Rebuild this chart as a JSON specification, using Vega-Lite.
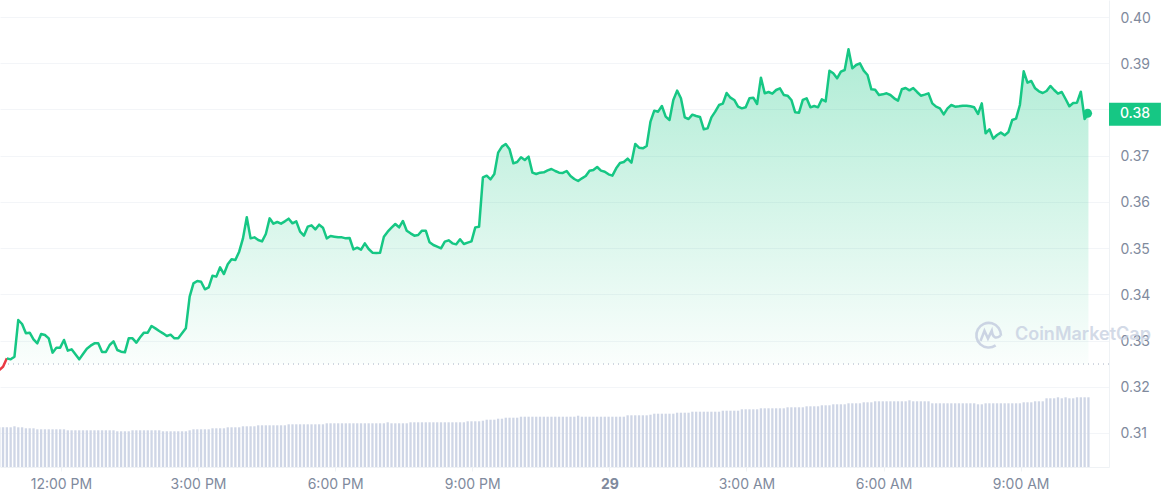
{"$schema":"https://vega.github.io/schema/vega-lite/v6.json","width":1109,"height":467,"autosize":"none","padding":{"left":0,"top":0,"right":52,"bottom":33},"background":"#ffffff","config":{"view":{"stroke":null},"font":"Inter"},
"data":{"values":[
{"time":"2023-09-28T10:39Z","price":0.32361,"volume":39.7},{"time":"2023-09-28T10:44Z","price":0.32434,"volume":39.7},{"time":"2023-09-28T10:49Z","price":0.32614,"volume":39.7},{"time":"2023-09-28T10:54Z","price":0.32592,"volume":39.7},{"time":"2023-09-28T10:59Z","price":0.3265,"volume":40.7},
{"time":"2023-09-28T11:04Z","price":0.33444,"volume":39.7},{"time":"2023-09-28T11:09Z","price":0.33357,"volume":39.7},{"time":"2023-09-28T11:14Z","price":0.33155,"volume":38.7},{"time":"2023-09-28T11:19Z","price":0.3317,"volume":38.7},{"time":"2023-09-28T11:24Z","price":0.33025,"volume":38.7},{"time":"2023-09-28T11:29Z","price":0.32939,"volume":37.7},{"time":"2023-09-28T11:34Z","price":0.33141,"volume":37.7},{"time":"2023-09-28T11:39Z","price":0.33119,"volume":37.7},{"time":"2023-09-28T11:44Z","price":0.33047,"volume":37.7},{"time":"2023-09-28T11:49Z","price":0.32737,"volume":37.7},{"time":"2023-09-28T11:54Z","price":0.32845,"volume":37.7},{"time":"2023-09-28T11:59Z","price":0.32845,"volume":37.7},
{"time":"2023-09-28T12:04Z","price":0.33011,"volume":37.7},{"time":"2023-09-28T12:09Z","price":0.3278,"volume":36.7},{"time":"2023-09-28T12:14Z","price":0.32809,"volume":36.7},{"time":"2023-09-28T12:19Z","price":0.32701,"volume":36.7},{"time":"2023-09-28T12:24Z","price":0.32592,"volume":36.7},{"time":"2023-09-28T12:29Z","price":0.32708,"volume":36.7},{"time":"2023-09-28T12:34Z","price":0.32823,"volume":36.7},{"time":"2023-09-28T12:39Z","price":0.32888,"volume":36.7},{"time":"2023-09-28T12:44Z","price":0.32939,"volume":36.7},{"time":"2023-09-28T12:49Z","price":0.32939,"volume":36.7},{"time":"2023-09-28T12:54Z","price":0.32751,"volume":36.7},{"time":"2023-09-28T12:59Z","price":0.32751,"volume":36.7},
{"time":"2023-09-28T13:04Z","price":0.32903,"volume":36.7},{"time":"2023-09-28T13:09Z","price":0.32982,"volume":36.7},{"time":"2023-09-28T13:14Z","price":0.32794,"volume":35.7},{"time":"2023-09-28T13:19Z","price":0.32758,"volume":35.7},{"time":"2023-09-28T13:24Z","price":0.32744,"volume":35.7},{"time":"2023-09-28T13:29Z","price":0.33047,"volume":35.7},{"time":"2023-09-28T13:34Z","price":0.33047,"volume":36.7},{"time":"2023-09-28T13:39Z","price":0.32953,"volume":36.7},{"time":"2023-09-28T13:44Z","price":0.33069,"volume":36.7},{"time":"2023-09-28T13:49Z","price":0.3317,"volume":36.7},{"time":"2023-09-28T13:54Z","price":0.3317,"volume":36.7},{"time":"2023-09-28T13:59Z","price":0.33314,"volume":36.7},
{"time":"2023-09-28T14:04Z","price":0.33263,"volume":36.7},{"time":"2023-09-28T14:09Z","price":0.33206,"volume":36.7},{"time":"2023-09-28T14:14Z","price":0.33155,"volume":35.7},{"time":"2023-09-28T14:19Z","price":0.33097,"volume":35.7},{"time":"2023-09-28T14:24Z","price":0.33126,"volume":35.7},{"time":"2023-09-28T14:29Z","price":0.33047,"volume":35.7},{"time":"2023-09-28T14:34Z","price":0.33047,"volume":35.7},{"time":"2023-09-28T14:39Z","price":0.33155,"volume":35.7},{"time":"2023-09-28T14:44Z","price":0.33263,"volume":35.7},{"time":"2023-09-28T14:49Z","price":0.33949,"volume":36.7},{"time":"2023-09-28T14:54Z","price":0.34237,"volume":37.7},{"time":"2023-09-28T14:59Z","price":0.34288,"volume":37.7},
{"time":"2023-09-28T15:04Z","price":0.34273,"volume":37.7},{"time":"2023-09-28T15:09Z","price":0.34108,"volume":37.7},{"time":"2023-09-28T15:14Z","price":0.34151,"volume":37.7},{"time":"2023-09-28T15:19Z","price":0.34403,"volume":38.7},{"time":"2023-09-28T15:24Z","price":0.34382,"volume":38.7},{"time":"2023-09-28T15:29Z","price":0.34584,"volume":38.7},{"time":"2023-09-28T15:34Z","price":0.34439,"volume":38.7},{"time":"2023-09-28T15:39Z","price":0.34649,"volume":39.7},{"time":"2023-09-28T15:44Z","price":0.34757,"volume":39.7},{"time":"2023-09-28T15:49Z","price":0.34742,"volume":39.7},{"time":"2023-09-28T15:54Z","price":0.34923,"volume":39.7},{"time":"2023-09-28T15:59Z","price":0.35211,"volume":40.7},
{"time":"2023-09-28T16:04Z","price":0.35666,"volume":40.7},{"time":"2023-09-28T16:09Z","price":0.35211,"volume":40.7},{"time":"2023-09-28T16:14Z","price":0.35233,"volume":40.7},{"time":"2023-09-28T16:19Z","price":0.35175,"volume":41.7},{"time":"2023-09-28T16:24Z","price":0.35146,"volume":41.7},{"time":"2023-09-28T16:29Z","price":0.35305,"volume":41.7},{"time":"2023-09-28T16:34Z","price":0.35644,"volume":41.7},{"time":"2023-09-28T16:39Z","price":0.35529,"volume":41.7},{"time":"2023-09-28T16:44Z","price":0.35565,"volume":41.7},{"time":"2023-09-28T16:49Z","price":0.35529,"volume":41.7},{"time":"2023-09-28T16:54Z","price":0.35579,"volume":41.7},{"time":"2023-09-28T16:59Z","price":0.35637,"volume":42.7},
{"time":"2023-09-28T17:04Z","price":0.35536,"volume":42.7},{"time":"2023-09-28T17:09Z","price":0.35579,"volume":42.7},{"time":"2023-09-28T17:14Z","price":0.35356,"volume":42.7},{"time":"2023-09-28T17:19Z","price":0.35269,"volume":42.7},{"time":"2023-09-28T17:24Z","price":0.35464,"volume":42.7},{"time":"2023-09-28T17:29Z","price":0.35493,"volume":42.7},{"time":"2023-09-28T17:34Z","price":0.35406,"volume":42.7},{"time":"2023-09-28T17:39Z","price":0.35507,"volume":42.7},{"time":"2023-09-28T17:44Z","price":0.35442,"volume":42.7},{"time":"2023-09-28T17:49Z","price":0.35211,"volume":43.7},{"time":"2023-09-28T17:54Z","price":0.35262,"volume":43.7},{"time":"2023-09-28T17:59Z","price":0.35247,"volume":43.7},
{"time":"2023-09-28T18:04Z","price":0.35233,"volume":43.7},{"time":"2023-09-28T18:09Z","price":0.35233,"volume":43.7},{"time":"2023-09-28T18:14Z","price":0.35211,"volume":43.7},{"time":"2023-09-28T18:19Z","price":0.35219,"volume":43.7},{"time":"2023-09-28T18:24Z","price":0.34973,"volume":43.7},{"time":"2023-09-28T18:29Z","price":0.35009,"volume":43.7},{"time":"2023-09-28T18:34Z","price":0.34966,"volume":43.7},{"time":"2023-09-28T18:39Z","price":0.35103,"volume":43.7},{"time":"2023-09-28T18:44Z","price":0.3498,"volume":43.7},{"time":"2023-09-28T18:49Z","price":0.34901,"volume":43.7},{"time":"2023-09-28T18:54Z","price":0.34894,"volume":43.7},{"time":"2023-09-28T18:59Z","price":0.34901,"volume":43.7},
{"time":"2023-09-28T19:04Z","price":0.35247,"volume":43.7},{"time":"2023-09-28T19:09Z","price":0.35356,"volume":44.7},{"time":"2023-09-28T19:14Z","price":0.35442,"volume":43.7},{"time":"2023-09-28T19:19Z","price":0.35522,"volume":43.7},{"time":"2023-09-28T19:24Z","price":0.3545,"volume":43.7},{"time":"2023-09-28T19:29Z","price":0.35587,"volume":43.7},{"time":"2023-09-28T19:34Z","price":0.35377,"volume":43.7},{"time":"2023-09-28T19:39Z","price":0.3532,"volume":44.7},{"time":"2023-09-28T19:44Z","price":0.35269,"volume":44.7},{"time":"2023-09-28T19:49Z","price":0.35284,"volume":44.7},{"time":"2023-09-28T19:54Z","price":0.35377,"volume":44.7},{"time":"2023-09-28T19:59Z","price":0.35377,"volume":44.7},
{"time":"2023-09-28T20:04Z","price":0.35125,"volume":44.7},{"time":"2023-09-28T20:09Z","price":0.35067,"volume":44.7},{"time":"2023-09-28T20:14Z","price":0.35031,"volume":44.7},{"time":"2023-09-28T20:19Z","price":0.34995,"volume":44.7},{"time":"2023-09-28T20:24Z","price":0.35139,"volume":44.7},{"time":"2023-09-28T20:29Z","price":0.35168,"volume":44.7},{"time":"2023-09-28T20:34Z","price":0.35103,"volume":44.7},{"time":"2023-09-28T20:39Z","price":0.35081,"volume":44.7},{"time":"2023-09-28T20:44Z","price":0.3519,"volume":44.7},{"time":"2023-09-28T20:49Z","price":0.35089,"volume":44.7},{"time":"2023-09-28T20:54Z","price":0.35118,"volume":45.7},{"time":"2023-09-28T20:59Z","price":0.35146,"volume":45.7},
{"time":"2023-09-28T21:04Z","price":0.35449,"volume":45.7},{"time":"2023-09-28T21:09Z","price":0.35464,"volume":45.7},{"time":"2023-09-28T21:14Z","price":0.36532,"volume":46.3},{"time":"2023-09-28T21:19Z","price":0.36568,"volume":47.3},{"time":"2023-09-28T21:24Z","price":0.36488,"volume":47.3},{"time":"2023-09-28T21:29Z","price":0.36604,"volume":47.3},{"time":"2023-09-28T21:34Z","price":0.37066,"volume":48.3},{"time":"2023-09-28T21:39Z","price":0.37196,"volume":48.3},{"time":"2023-09-28T21:44Z","price":0.37253,"volume":49.3},{"time":"2023-09-28T21:49Z","price":0.37138,"volume":49.3},{"time":"2023-09-28T21:54Z","price":0.36835,"volume":49.3},{"time":"2023-09-28T21:59Z","price":0.36864,"volume":49.3},
{"time":"2023-09-28T22:04Z","price":0.36965,"volume":50.3},{"time":"2023-09-28T22:09Z","price":0.36907,"volume":50.3},{"time":"2023-09-28T22:14Z","price":0.36979,"volume":50.3},{"time":"2023-09-28T22:19Z","price":0.36633,"volume":50.3},{"time":"2023-09-28T22:24Z","price":0.36604,"volume":50.3},{"time":"2023-09-28T22:29Z","price":0.36633,"volume":50.3},{"time":"2023-09-28T22:34Z","price":0.3664,"volume":50.3},{"time":"2023-09-28T22:39Z","price":0.36683,"volume":50.3},{"time":"2023-09-28T22:44Z","price":0.36712,"volume":50.3},{"time":"2023-09-28T22:49Z","price":0.36669,"volume":50.3},{"time":"2023-09-28T22:54Z","price":0.36633,"volume":50.3},{"time":"2023-09-28T22:59Z","price":0.36626,"volume":50.3},
{"time":"2023-09-28T23:04Z","price":0.36669,"volume":50.3},{"time":"2023-09-28T23:09Z","price":0.36561,"volume":50.3},{"time":"2023-09-28T23:14Z","price":0.36496,"volume":50.3},{"time":"2023-09-28T23:19Z","price":0.36452,"volume":51.3},{"time":"2023-09-28T23:24Z","price":0.3651,"volume":50.3},{"time":"2023-09-28T23:29Z","price":0.36561,"volume":50.3},{"time":"2023-09-28T23:34Z","price":0.36676,"volume":50.3},{"time":"2023-09-28T23:39Z","price":0.3669,"volume":50.3},{"time":"2023-09-28T23:44Z","price":0.36755,"volume":50.3},{"time":"2023-09-28T23:49Z","price":0.36676,"volume":50.3},{"time":"2023-09-28T23:54Z","price":0.36654,"volume":50.3},{"time":"2023-09-28T23:59Z","price":0.36597,"volume":50.3},
{"time":"2023-09-29T00:04Z","price":0.36568,"volume":50.3},{"time":"2023-09-29T00:09Z","price":0.36727,"volume":50.3},{"time":"2023-09-29T00:14Z","price":0.36842,"volume":50.3},{"time":"2023-09-29T00:19Z","price":0.36864,"volume":50.3},{"time":"2023-09-29T00:24Z","price":0.36936,"volume":51.7},{"time":"2023-09-29T00:29Z","price":0.36849,"volume":51.7},{"time":"2023-09-29T00:34Z","price":0.37253,"volume":51.7},{"time":"2023-09-29T00:39Z","price":0.37174,"volume":51.7},{"time":"2023-09-29T00:44Z","price":0.37159,"volume":51.7},{"time":"2023-09-29T00:49Z","price":0.3721,"volume":51.7},{"time":"2023-09-29T00:54Z","price":0.37737,"volume":52.3},{"time":"2023-09-29T00:59Z","price":0.37975,"volume":53.3},
{"time":"2023-09-29T01:04Z","price":0.37953,"volume":53.3},{"time":"2023-09-29T01:09Z","price":0.38076,"volume":53.3},{"time":"2023-09-29T01:14Z","price":0.37845,"volume":53.3},{"time":"2023-09-29T01:19Z","price":0.37773,"volume":53.3},{"time":"2023-09-29T01:24Z","price":0.38206,"volume":53.3},{"time":"2023-09-29T01:29Z","price":0.38408,"volume":54.3},{"time":"2023-09-29T01:34Z","price":0.38242,"volume":54.3},{"time":"2023-09-29T01:39Z","price":0.3783,"volume":54.3},{"time":"2023-09-29T01:44Z","price":0.37794,"volume":54.3},{"time":"2023-09-29T01:49Z","price":0.37888,"volume":55.3},{"time":"2023-09-29T01:54Z","price":0.37859,"volume":55.3},{"time":"2023-09-29T01:59Z","price":0.37838,"volume":55.3},
{"time":"2023-09-29T02:04Z","price":0.37571,"volume":55.3},{"time":"2023-09-29T02:09Z","price":0.37592,"volume":55.3},{"time":"2023-09-29T02:14Z","price":0.3783,"volume":55.3},{"time":"2023-09-29T02:19Z","price":0.37953,"volume":55.3},{"time":"2023-09-29T02:24Z","price":0.38097,"volume":55.3},{"time":"2023-09-29T02:29Z","price":0.38126,"volume":56.3},{"time":"2023-09-29T02:34Z","price":0.38357,"volume":56.3},{"time":"2023-09-29T02:39Z","price":0.38256,"volume":56.3},{"time":"2023-09-29T02:44Z","price":0.38206,"volume":56.3},{"time":"2023-09-29T02:49Z","price":0.38061,"volume":56.3},{"time":"2023-09-29T02:54Z","price":0.38025,"volume":57.7},{"time":"2023-09-29T02:59Z","price":0.38047,"volume":57.7},
{"time":"2023-09-29T03:04Z","price":0.38242,"volume":57.7},{"time":"2023-09-29T03:09Z","price":0.38256,"volume":57.7},{"time":"2023-09-29T03:14Z","price":0.38119,"volume":57.7},{"time":"2023-09-29T03:19Z","price":0.38689,"volume":58.7},{"time":"2023-09-29T03:24Z","price":0.3835,"volume":58.7},{"time":"2023-09-29T03:29Z","price":0.38379,"volume":58.7},{"time":"2023-09-29T03:34Z","price":0.38343,"volume":58.7},{"time":"2023-09-29T03:39Z","price":0.38422,"volume":58.7},{"time":"2023-09-29T03:44Z","price":0.38458,"volume":58.7},{"time":"2023-09-29T03:49Z","price":0.38314,"volume":58.7},{"time":"2023-09-29T03:54Z","price":0.38299,"volume":59.7},{"time":"2023-09-29T03:59Z","price":0.38206,"volume":59.7},
{"time":"2023-09-29T04:04Z","price":0.37939,"volume":59.7},{"time":"2023-09-29T04:09Z","price":0.37931,"volume":59.7},{"time":"2023-09-29T04:14Z","price":0.38206,"volume":59.7},{"time":"2023-09-29T04:19Z","price":0.38242,"volume":60.7},{"time":"2023-09-29T04:24Z","price":0.38047,"volume":60.7},{"time":"2023-09-29T04:29Z","price":0.38076,"volume":60.7},{"time":"2023-09-29T04:34Z","price":0.38047,"volume":60.7},{"time":"2023-09-29T04:39Z","price":0.3822,"volume":61.7},{"time":"2023-09-29T04:44Z","price":0.38177,"volume":61.7},{"time":"2023-09-29T04:49Z","price":0.3884,"volume":61.7},{"time":"2023-09-29T04:54Z","price":0.38783,"volume":62.7},{"time":"2023-09-29T04:59Z","price":0.38675,"volume":62.7},
{"time":"2023-09-29T05:04Z","price":0.38819,"volume":62.7},{"time":"2023-09-29T05:09Z","price":0.38855,"volume":62.7},{"time":"2023-09-29T05:14Z","price":0.39302,"volume":63.7},{"time":"2023-09-29T05:19Z","price":0.38891,"volume":63.7},{"time":"2023-09-29T05:24Z","price":0.38963,"volume":63.7},{"time":"2023-09-29T05:29Z","price":0.38999,"volume":63.7},{"time":"2023-09-29T05:34Z","price":0.3884,"volume":64.7},{"time":"2023-09-29T05:39Z","price":0.38747,"volume":64.7},{"time":"2023-09-29T05:44Z","price":0.38437,"volume":64.7},{"time":"2023-09-29T05:49Z","price":0.38429,"volume":65.7},{"time":"2023-09-29T05:54Z","price":0.38314,"volume":65.7},{"time":"2023-09-29T05:59Z","price":0.38328,"volume":65.7},
{"time":"2023-09-29T06:04Z","price":0.3835,"volume":65.7},{"time":"2023-09-29T06:09Z","price":0.38314,"volume":65.7},{"time":"2023-09-29T06:14Z","price":0.38242,"volume":65.7},{"time":"2023-09-29T06:19Z","price":0.38191,"volume":65.7},{"time":"2023-09-29T06:24Z","price":0.38437,"volume":65.7},{"time":"2023-09-29T06:29Z","price":0.38465,"volume":65.7},{"time":"2023-09-29T06:34Z","price":0.38415,"volume":66.7},{"time":"2023-09-29T06:39Z","price":0.38465,"volume":65.7},{"time":"2023-09-29T06:44Z","price":0.38379,"volume":65.7},{"time":"2023-09-29T06:49Z","price":0.38299,"volume":65.7},{"time":"2023-09-29T06:54Z","price":0.38321,"volume":65.7},{"time":"2023-09-29T06:59Z","price":0.3835,"volume":65.7},
{"time":"2023-09-29T07:04Z","price":0.38133,"volume":63.7},{"time":"2023-09-29T07:09Z","price":0.38061,"volume":63.7},{"time":"2023-09-29T07:14Z","price":0.38025,"volume":63.7},{"time":"2023-09-29T07:19Z","price":0.37895,"volume":63.7},{"time":"2023-09-29T07:24Z","price":0.38025,"volume":63.7},{"time":"2023-09-29T07:29Z","price":0.38097,"volume":63.7},{"time":"2023-09-29T07:34Z","price":0.38061,"volume":63.7},{"time":"2023-09-29T07:39Z","price":0.38069,"volume":63.7},{"time":"2023-09-29T07:44Z","price":0.38083,"volume":63.7},{"time":"2023-09-29T07:49Z","price":0.38083,"volume":63.7},{"time":"2023-09-29T07:54Z","price":0.38069,"volume":63.7},{"time":"2023-09-29T07:59Z","price":0.38047,"volume":63.7},
{"time":"2023-09-29T08:04Z","price":0.37903,"volume":62.7},{"time":"2023-09-29T08:09Z","price":0.38133,"volume":62.7},{"time":"2023-09-29T08:14Z","price":0.37484,"volume":63.7},{"time":"2023-09-29T08:19Z","price":0.37571,"volume":63.7},{"time":"2023-09-29T08:24Z","price":0.37369,"volume":63.7},{"time":"2023-09-29T08:29Z","price":0.37448,"volume":63.7},{"time":"2023-09-29T08:34Z","price":0.37499,"volume":63.7},{"time":"2023-09-29T08:39Z","price":0.37441,"volume":63.7},{"time":"2023-09-29T08:44Z","price":0.37513,"volume":63.7},{"time":"2023-09-29T08:49Z","price":0.37773,"volume":63.7},{"time":"2023-09-29T08:54Z","price":0.37802,"volume":63.7},{"time":"2023-09-29T08:59Z","price":0.38097,"volume":63.7},
{"time":"2023-09-29T09:04Z","price":0.38826,"volume":64.7},{"time":"2023-09-29T09:09Z","price":0.38581,"volume":64.7},{"time":"2023-09-29T09:14Z","price":0.38617,"volume":64.7},{"time":"2023-09-29T09:19Z","price":0.38458,"volume":65.7},{"time":"2023-09-29T09:24Z","price":0.38393,"volume":65.7},{"time":"2023-09-29T09:29Z","price":0.38357,"volume":65.7},{"time":"2023-09-29T09:34Z","price":0.384,"volume":68.7},{"time":"2023-09-29T09:39Z","price":0.38509,"volume":68.7},{"time":"2023-09-29T09:44Z","price":0.38422,"volume":68.7},{"time":"2023-09-29T09:49Z","price":0.38343,"volume":69.7},{"time":"2023-09-29T09:54Z","price":0.38379,"volume":68.7},{"time":"2023-09-29T09:59Z","price":0.38227,"volume":69.7},
{"time":"2023-09-29T10:04Z","price":0.38069,"volume":68.7},{"time":"2023-09-29T10:09Z","price":0.38141,"volume":68.7},{"time":"2023-09-29T10:14Z","price":0.38148,"volume":69.7},{"time":"2023-09-29T10:19Z","price":0.38386,"volume":69.7},{"time":"2023-09-29T10:24Z","price":0.37794,"volume":69.7},{"time":"2023-09-29T10:29Z","price":0.37917,"volume":69.7}
]},
"layer":[
{"mark":{"type":"bar","width":2.3,"color":"#cfd6e6","clip":true},
"encoding":{
"x":{"field":"time","type":"temporal","title":null,"scale":{"type":"utc","padding":0,"domain":[{"year":2023,"month":9,"date":28,"hours":10,"minutes":40,"utc":true},{"year":2023,"month":9,"date":29,"hours":10,"minutes":56,"utc":true}]},
"axis":{"orient":"bottom","values":[{"year":2023,"month":9,"date":28,"hours":12,"utc":true},{"year":2023,"month":9,"date":28,"hours":15,"utc":true},{"year":2023,"month":9,"date":28,"hours":18,"utc":true},{"year":2023,"month":9,"date":28,"hours":21,"utc":true},{"year":2023,"month":9,"date":29,"hours":0,"utc":true},{"year":2023,"month":9,"date":29,"hours":3,"utc":true},{"year":2023,"month":9,"date":29,"hours":6,"utc":true},{"year":2023,"month":9,"date":29,"hours":9,"utc":true}],"labelExpr":"utchours(datum.value)==0 ? '29' : utcFormat(datum.value,'%-I:%M %p')","grid":false,"domain":true,"domainColor":"#eff2f5","tickColor":"#eff2f5","tickSize":4,"labelColor":"#808a9d","labelFontSize":14,"labelPadding":6,"labelFont":"Inter","labelFontWeight":{"condition":{"test":"utchours(datum.value)==0","value":"bold"},"value":"normal"},"labelFlush":false,"labelOverlap":false}},
"y":{"field":"volume","type":"quantitative","title":null,"axis":null,"scale":{"domain":[0,467],"nice":false,"zero":true}}}},
{"layer":[
{"data":{"values":[{"label":"baseline"}]},"mark":{"type":"rule","color":"#a6b0c3","strokeDash":[1,4],"strokeWidth":1},
"encoding":{"y":{"datum":0.32491,"type":"quantitative"}}},
{"transform":[{"filter":"toDate(datum.time) >= toDate('2023-09-28T10:49:00Z')"}],
"mark":{"type":"area","clip":true,"line":false,"color":{"x1":0,"y1":0,"x2":0,"y2":1,"gradient":"linear","stops":[{"offset":0,"color":"rgba(22,199,132,0.34)"},{"offset":1,"color":"rgba(22,199,132,0.02)"}]}},
"encoding":{"x":{"field":"time","type":"temporal"},"y":{"field":"price","type":"quantitative"},"y2":{"datum":0.32491}}},
{"transform":[{"filter":"toDate(datum.time) <= toDate('2023-09-28T10:49:00Z')"}],
"mark":{"type":"line","color":"#ea3943","strokeWidth":2.5,"clip":true},
"encoding":{"x":{"field":"time","type":"temporal"},"y":{"field":"price","type":"quantitative"}}},
{"transform":[{"filter":"toDate(datum.time) >= toDate('2023-09-28T10:49:00Z')"}],
"mark":{"type":"line","color":"#16c784","strokeWidth":2.5,"strokeJoin":"round","clip":true},
"encoding":{"x":{"field":"time","type":"temporal"},"y":{"field":"price","type":"quantitative","title":null,"scale":{"domain":[0.30262,0.4037],"nice":false,"zero":false},
"axis":{"orient":"right","values":[0.31,0.32,0.33,0.34,0.35,0.36,0.37,0.38,0.39,0.4],"format":".2f","labelExpr":"datum.label == '0.38' ? '' : datum.label","grid":true,"gridColor":"#f3f5f8","gridWidth":1,"domain":true,"domainColor":"#eff2f5","ticks":false,"labelColor":"#808a9d","labelFontSize":14,"labelPadding":11,"labelOffset":1,"labelFont":"Inter"}}}},
{"transform":[{"filter":"toDate(datum.time) >= toDate('2023-09-29T10:29:00Z')"}],
"mark":{"type":"point","filled":true,"color":"#16c784","size":80,"opacity":1,"xOffset":-0.8},
"encoding":{"x":{"field":"time","type":"temporal"},"y":{"field":"price","type":"quantitative"}}},
{"transform":[{"filter":"toDate(datum.time) >= toDate('2023-09-29T10:29:00Z')"}],
"mark":{"type":"rule","color":"#16c784","strokeWidth":23,"yOffset":1},
"encoding":{"x":{"datum":{"year":2023,"month":9,"date":29,"hours":10,"minutes":56,"utc":true},"type":"temporal"},"x2":{"datum":{"year":2023,"month":9,"date":29,"hours":12,"minutes":4,"seconds":10,"utc":true}},"y":{"field":"price","type":"quantitative"}}},
{"transform":[{"filter":"toDate(datum.time) >= toDate('2023-09-29T10:29:00Z')"}],
"mark":{"type":"text","color":"#ffffff","font":"Inter","fontSize":14,"fontWeight":500,"align":"left","baseline":"middle","yOffset":1},
"encoding":{"x":{"datum":{"year":2023,"month":9,"date":29,"hours":11,"minutes":10,"seconds":20,"utc":true},"type":"temporal"},"y":{"field":"price","type":"quantitative"},"text":{"field":"price","type":"quantitative","format":".2f"}}},
{"data":{"values":[{"label":"CoinMarketCap"}]},
"mark":{"type":"text","color":"#c5cee0","opacity":0.75,"font":"Inter","fontSize":18,"fontWeight":600,"align":"left","baseline":"middle"},
"encoding":{"x":{"datum":{"year":2023,"month":9,"date":29,"hours":8,"minutes":52,"seconds":30,"utc":true},"type":"temporal"},"y":{"datum":0.33119,"type":"quantitative"},"text":{"field":"label"}}},
{"data":{"values":[{"label":"logo"}]},
"mark":{"type":"point","filled":false,"color":"#c5cee0","strokeWidth":2.6,"opacity":0.85,"size":784,"shape":"M0.5 0.74A0.88 0.88 0 1 1 0.88 0.05M-0.58 0.42L-0.3 -0.3L-0.05 0.25L0.22 -0.3C0.3 0.2 0.5 0.3 0.85 0.05"},
"encoding":{"x":{"datum":{"year":2023,"month":9,"date":29,"hours":8,"minutes":18,"utc":true},"type":"temporal"},"y":{"datum":0.33119,"type":"quantitative"}}}
]}
],
"resolve":{"scale":{"y":"independent"}}}
